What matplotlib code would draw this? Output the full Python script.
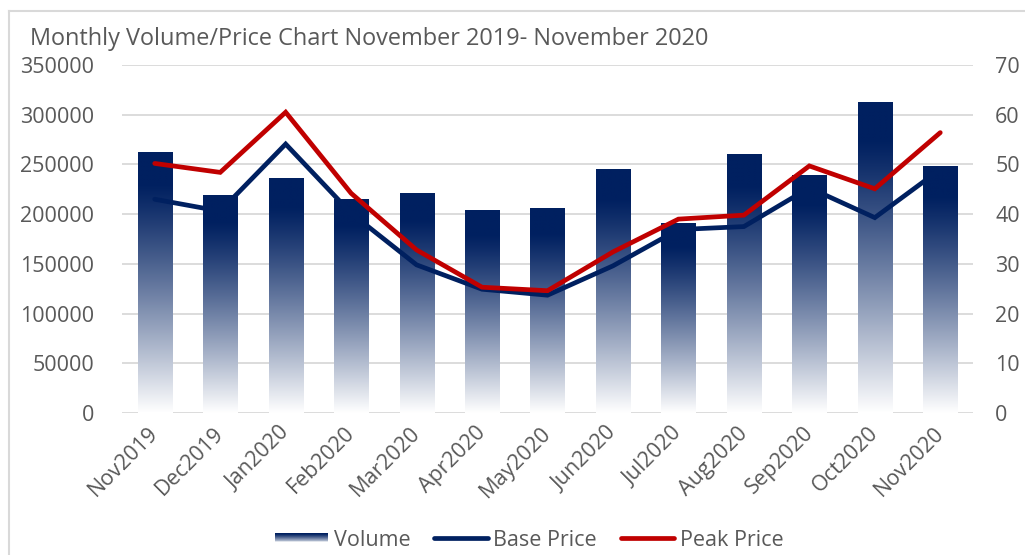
import numpy as np
import matplotlib
matplotlib.use("Agg")
import matplotlib.pyplot as plt
from matplotlib.colors import to_rgb
from matplotlib.patches import Rectangle
from matplotlib.lines import Line2D
from matplotlib.legend_handler import HandlerBase
import matplotlib.transforms as mtransforms

plt.rcParams['font.family'] = ['Open Sans', 'DejaVu Sans']

months = ["Nov2019", "Dec2019", "Jan2020", "Feb2020", "Mar2020", "Apr2020", "May2020",
          "Jun2020", "Jul2020", "Aug2020", "Sep2020", "Oct2020", "Nov2020"]
volume = [262000, 219000, 236000, 215000, 221000, 204000, 206000,
          245000, 191000, 260000, 239000, 312000, 248000]
base_price = [43.0, 40.6, 54.1, 40.2, 29.8, 24.9, 23.7, 29.6, 36.9, 37.5, 45.3, 39.3, 49.0]
peak_price = [50.2, 48.4, 60.5, 44.2, 32.8, 25.3, 24.6, 32.4, 39.0, 39.8, 49.7, 45.1, 56.4]
left_ticks = [0, 50000, 100000, 150000, 200000, 250000, 300000, 350000]
right_ticks = [0, 10, 20, 30, 40, 50, 60, 70]

NAVY = "#002060"
RED = "#C00000"
GRID = "#d9d9d9"
TXT = "#595959"
FS = 15.5

def gradient(n=256):
    top = np.array(to_rgb(NAVY))
    white = np.array([1.0, 1.0, 1.0])
    t = np.linspace(0, 1, n)
    f = np.clip((t - 0.12) / 0.88, 0, 1) ** 1.15
    cols = top[None, :] * (1 - f[:, None]) + white[None, :] * f[:, None]
    return cols[:, None, :]

fig = plt.figure(figsize=(10.25, 5.55), dpi=100)
ax = fig.add_axes([122/1025, 1-413/555, (973-122)/1025, (413-65)/555])
ax2 = ax.twinx()

x = np.arange(len(months))
w = 0.52
grad = gradient()
for xi, v in zip(x, volume):
    ax.imshow(grad, extent=[xi - w/2, xi + w/2, 0, v], aspect='auto',
              origin='upper', zorder=2, interpolation='bilinear')

ax.set_xlim(-0.5, len(months) - 0.5)
ax.set_ylim(0, 350000)
ax.set_yticks(left_ticks)
ax.set_yticklabels([str(t) for t in left_ticks])
ax.grid(axis='y', color=GRID, linewidth=1.3, zorder=0)
ax.set_axisbelow(True)
for s in ax.spines.values():
    s.set_visible(False)
for s in ax2.spines.values():
    s.set_visible(False)
ax.tick_params(axis='both', length=0, labelsize=FS, colors=TXT)
ax.tick_params(axis='y', pad=20)
ax.set_xticks(x)
ax.set_xticklabels(months, rotation=45, ha='right', rotation_mode='default')
ax.tick_params(axis='x', pad=7)
offset = mtransforms.ScaledTranslation(8/100, 0, fig.dpi_scale_trans)
for lab in ax.get_xticklabels():
    lab.set_transform(lab.get_transform() + offset)

ax2.plot(x, base_price, color=NAVY, linewidth=3.4, solid_capstyle='round',
         solid_joinstyle='miter', zorder=3)
ax2.plot(x, peak_price, color=RED, linewidth=3.4, solid_capstyle='round',
         solid_joinstyle='miter', zorder=4)
ax2.set_ylim(0, 70)
ax2.set_yticks(right_ticks)
ax2.set_yticklabels([str(t) for t in right_ticks])
ax2.tick_params(axis='y', length=0, labelsize=FS, colors=TXT, pad=16)

fig.text(30/1025, 1-45/555, "Monthly Volume/Price Chart November 2019- November 2020",
         fontsize=16.9, color=TXT, va='baseline', ha='left')

# chart border (top and left)
fig.add_artist(Line2D([9/1025, 9/1025], [0, 1-11/555], transform=fig.transFigure,
                      color=GRID, linewidth=1.5))
fig.add_artist(Line2D([9/1025, 1.0], [1-11/555, 1-11/555], transform=fig.transFigure,
                      color=GRID, linewidth=1.5))

class GradHandler(HandlerBase):
    def create_artists(self, legend, orig_handle, xdescent, ydescent, width, height,
                       fontsize, trans):
        arts = []
        n = 12
        h = height * 0.7
        y0 = -ydescent + (height - h) / 2
        g = gradient(n)[:, 0, :]
        for i in range(n):
            r = Rectangle((-xdescent, y0 + h - (i + 1) * h / n), width, h / n,
                          facecolor=g[i], edgecolor='none', transform=trans)
            arts.append(r)
        return arts

vol_handle = Rectangle((0, 0), 1, 1, facecolor=NAVY)
h_base = Line2D([], [], color=NAVY, linewidth=3.4, solid_capstyle='round')
h_peak = Line2D([], [], color=RED, linewidth=3.4, solid_capstyle='round')
leg = fig.legend([vol_handle, h_base, h_peak], ["Volume", "Base Price", "Peak Price"],
                 loc='center', bbox_to_anchor=(529/1025, 1-540/555), ncol=3,
                 frameon=False, fontsize=FS, handlelength=2.5, handletextpad=0.25,
                 columnspacing=1.1, handler_map={vol_handle: GradHandler()},
                 labelcolor=TXT)

fig.savefig("out.png", dpi=100)
